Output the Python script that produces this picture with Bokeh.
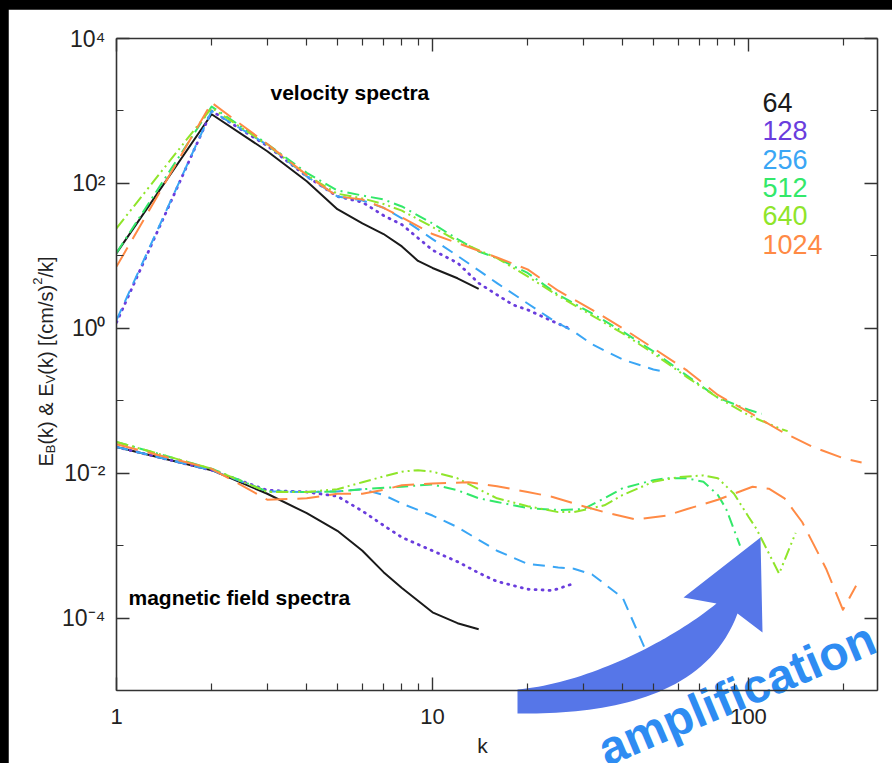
import math
from bokeh.plotting import figure
from bokeh.models import Range1d, LogAxis, FixedTicker, Label
from bokeh.core.properties import value
from bokeh.layouts import column
from bokeh.embed import file_html
from bokeh.resources import INLINE

# ---------------- data ----------------
resolutions = ["64", "128", "256", "512", "640", "1024"]

vel_k_64 = [1, 2, 3, 4, 5, 6, 7, 8, 9, 10, 12, 14]
vel_E_64 = [10.9, 900, 278, 107, 44, 28, 20, 13.5, 8.5, 6.8, 4.9, 3.5]
vel_k_128 = [1, 2, 3, 4, 5, 6, 7, 8, 10, 12, 14, 16, 18, 20, 24, 27]
vel_E_128 = [1.2, 1000, 330, 125, 66, 55, 36, 27, 12, 8, 4.2, 2.9, 2.1, 1.8, 1.25, 1.0]
vel_k_256 = [1, 2, 3, 4, 5, 6, 7, 8, 10, 12, 14, 16, 20, 24, 28, 32, 40, 50, 55]
vel_E_256 = [1.3, 1000, 340, 125, 66, 58, 46, 33, 17, 10, 6.3, 4.2, 2.2, 1.3, 0.9, 0.6, 0.37, 0.27, 0.25]
vel_k_512 = [1, 2, 3, 4, 5, 6, 7, 8, 10, 12, 14, 16, 20, 25, 32, 40, 50, 64, 80, 100, 110]
vel_E_512 = [11, 1150, 350, 140, 80, 68, 60, 48, 28, 17, 11.5, 9.3, 5.8, 2.9, 1.6, 0.9, 0.48, 0.22, 0.11, 0.075, 0.066]
vel_k_640 = [1, 2, 3, 4, 5, 6, 7, 8, 10, 12, 14, 16, 20, 25, 32, 40, 50, 64, 80, 100, 128, 133]
vel_E_640 = [24, 1100, 340, 130, 72, 62, 52, 42, 25, 16, 12, 9.3, 5.2, 2.8, 1.5, 0.85, 0.45, 0.21, 0.11, 0.063, 0.04, 0.038]
vel_k_1024 = [1, 2, 3, 4, 5, 6, 7, 8, 10, 12, 14, 16, 20, 25, 32, 40, 50, 64, 80, 100, 128, 160, 200, 228]
vel_E_1024 = [7.1, 1300, 350, 130, 66, 60, 46, 34, 20, 15, 11.7, 9.5, 6.5, 3.3, 1.8, 1.0, 0.53, 0.26, 0.12, 0.07, 0.037, 0.023, 0.016, 0.014]

mag_k_64 = [1, 2, 3, 4, 5, 6, 7, 8, 10, 12, 14]
mag_E_64 = [0.023, 0.011, 0.0052, 0.0028, 0.0016, 0.00085, 0.00043, 0.00026, 0.00012, 8.5e-5, 7e-5]
mag_k_128 = [1, 2, 3, 4, 5, 6, 7, 8, 10, 12, 14, 16, 20, 24, 28]
mag_E_128 = [0.023, 0.011, 0.0058, 0.0055, 0.0048, 0.003, 0.0019, 0.0013, 0.00085, 0.0006, 0.00042, 0.00032, 0.00025, 0.00024, 0.0003]
mag_k_256 = [1, 2, 3, 4, 5, 6, 7, 8, 10, 12, 14, 16, 20, 25, 28, 32, 40, 48, 54]
mag_E_256 = [0.023, 0.011, 0.0056, 0.0055, 0.0056, 0.006, 0.005, 0.0038, 0.0026, 0.0018, 0.0012, 0.00085, 0.00056, 0.0005, 0.00048, 0.0004, 0.00019, 3.1e-5, 5e-5]
mag_k_512 = [1, 2, 3, 4, 5, 6, 8, 10, 12, 14, 16, 20, 25, 30, 35, 40, 50, 55, 64, 72, 80, 85, 94]
mag_E_512 = [0.027, 0.0115, 0.0056, 0.0055, 0.0056, 0.006, 0.0065, 0.007, 0.0058, 0.0045, 0.004, 0.0033, 0.0031, 0.0032, 0.0045, 0.0062, 0.008, 0.0085, 0.0085, 0.0076, 0.005, 0.0032, 0.001]
mag_k_640 = [1, 2, 3, 4, 5, 6, 7, 8, 9, 10, 12, 14, 16, 20, 25, 28, 35, 40, 50, 60, 72, 80, 90, 100, 106, 125, 141]
mag_E_640 = [0.027, 0.0115, 0.0055, 0.0055, 0.006, 0.0075, 0.009, 0.0105, 0.011, 0.0105, 0.0085, 0.006, 0.0045, 0.0035, 0.0029, 0.0029, 0.0036, 0.005, 0.0076, 0.0088, 0.0093, 0.0085, 0.0052, 0.0025, 0.0017, 0.00041, 0.0015]
mag_k_1024 = [1, 2, 3, 4, 5, 6, 7, 8, 10, 13, 16, 20, 24, 30, 35, 44, 55, 64, 80, 103, 116, 130, 148, 176, 199, 219]
mag_E_1024 = [0.025, 0.0115, 0.0043, 0.0045, 0.0052, 0.0052, 0.0059, 0.0068, 0.0072, 0.0075, 0.0066, 0.0055, 0.0047, 0.0035, 0.0029, 0.0023, 0.0026, 0.0032, 0.0043, 0.0065, 0.0061, 0.0045, 0.0021, 0.00048, 0.00013, 0.00028]

x_major = [1, 10, 100]
x_minor = [2, 3, 4, 5, 6, 7, 8, 9, 20, 30, 40, 50, 60, 70, 80, 90, 200]
x_labels = ["1", "10", "100"]
y_major = [1e-4, 1e-2, 1.0, 1e2, 1e4]
y_minor = [1e-5, 1e-3, 1e-1, 10, 1e3]
y_labels = ["10⁻⁴", "10⁻²", "10⁰", "10²", "10⁴"]

# ---------------- styles ----------------
colors = ["#1a1a1a", "#6a3ddd", "#3aa6f5", "#33e86a", "#8fe52a", "#ff8a45"]
dashes = ["solid", "1 6", "12 8", "12 5 2 5", "12 4 2 4 2 4", "22 10"]
widths = [2, 2.8, 2, 2, 2, 2]
FONT = "Liberation Sans"

# frame placement in page pixels (used only for decorations)
FL, FR, FT, FB = 116, 877, 38, 690
X0, X1, Y0, Y1 = 1, 256, 1e-5, 1e4
DX = (FR - FL) / math.log10(X1 / X0)
DY = (FB - FT) / math.log10(Y1 / Y0)


def k_of(px):
    return X0 * 10 ** ((px - FL) / DX)


def e_of(py):
    return Y0 * 10 ** ((FB - py) / DY)


vel_k = [vel_k_64, vel_k_128, vel_k_256, vel_k_512, vel_k_640, vel_k_1024]
vel_E = [vel_E_64, vel_E_128, vel_E_256, vel_E_512, vel_E_640, vel_E_1024]
mag_k = [mag_k_64, mag_k_128, mag_k_256, mag_k_512, mag_k_640, mag_k_1024]
mag_E = [mag_E_64, mag_E_128, mag_E_256, mag_E_512, mag_E_640, mag_E_1024]

p = figure(width=884, height=754, x_axis_type="log", y_axis_type="log",
           x_range=Range1d(X0, X1), y_range=Range1d(Y0, Y1),
           output_backend="svg", toolbar_location=None,
           min_border_left=FL - 8, min_border_right=892 - FR, min_border_top=FT - 9,
           min_border_bottom=763 - FB,
           background_fill_color="white", border_fill_color="white",
           margin=(9, 0, 0, 8))
p.grid.visible = False
p.outline_line_color = None


def style_axis(ax, ticker, show_labels, standoff, size="22px"):
    ax.ticker = ticker
    ax.axis_line_color = "#333333"
    ax.axis_line_width = 1.6
    ax.major_tick_line_color = "#333333"
    ax.minor_tick_line_color = "#333333"
    ax.major_tick_line_width = 1.4
    ax.minor_tick_line_width = 1.2
    ax.major_tick_in = 13
    ax.major_tick_out = 0
    ax.minor_tick_in = 7
    ax.minor_tick_out = 0
    ax.major_label_text_font = FONT
    ax.major_label_text_color = "#222222"
    if show_labels:
        ax.major_label_text_font_size = size
        ax.major_label_standoff = standoff
    else:
        ax.major_label_text_font_size = "1px"
        ax.major_label_text_alpha = 0
        ax.major_label_standoff = 0


style_axis(p.xaxis[0], FixedTicker(ticks=x_major, minor_ticks=x_minor), True, 18, "22px")
p.xaxis[0].major_label_overrides = {v: s for v, s in zip(x_major, x_labels)}
p.xaxis[0].level = "overlay"
style_axis(p.yaxis[0], FixedTicker(ticks=y_major, minor_ticks=y_minor), True, 11, "23px")
p.yaxis[0].major_label_overrides = {v: s for v, s in zip(y_major, y_labels)}

top = LogAxis()
style_axis(top, FixedTicker(ticks=x_major, minor_ticks=x_minor), False, 0)
p.add_layout(top, "above")
right = LogAxis()
style_axis(right, FixedTicker(ticks=y_major, minor_ticks=y_minor), False, 0)
p.add_layout(right, "right")

for i in range(len(resolutions)):
    for ks, es in ((vel_k[i], vel_E[i]), (mag_k[i], mag_E[i])):
        p.line(ks, es, line_color=colors[i], line_width=widths[i],
               line_dash=dashes[i], line_cap="round" if i == 1 else "butt",
               line_join="round")

# legend numbers
for i, r in enumerate(resolutions):
    p.add_layout(Label(x=762 - FL, y=FB - (101.7 + 28.4 * i), x_units="screen", y_units="screen",
                       text=r, text_color=colors[i], text_font=FONT, text_font_size="27px",
                       text_baseline="middle", text_align="left"))

p.add_layout(Label(x=270 - FL, y=FB - 91.7, x_units="screen", y_units="screen",
                   text="velocity spectra", text_font=FONT, text_font_size="21px",
                   text_font_style="bold", text_color="black", text_baseline="middle"))
p.add_layout(Label(x=128 - FL, y=FB - 596.7, x_units="screen", y_units="screen",
                   text="magnetic field spectra", text_font=FONT, text_font_size="21px",
                   text_font_style="bold", text_color="black", text_baseline="middle"))

# ---- decorations outside the frame: glyphs at non-clipped levels ----
# x-axis title
p.text(x=[k_of(482)], y=[e_of(745)], text=["k"], text_font=value(FONT),
       text_font_size=value("21px"), text_color="#222222", text_align="center",
       text_baseline="middle", level="overlay")

# y-axis title built from pieces (sub/superscripts)
CW = {"E": .667, "B": .667, "V": .667, "(": .333, ")": .333, "k": .5, " ": .278, "&": .667,
      "[": .278, "]": .278, "c": .5, "m": .833, "/": .278, "s": .5, "2": .556}
parts = [("E", 20, 0), ("B", 13, 5), ("(k) & E", 20, 0), ("V", 13, 5),
         ("(k) [(cm/s)", 20, 0), ("2", 13, -8), ("/k]", 20, 0)]
total = sum(sum(CW.get(c, .556) for c in t) * s for t, s, _ in parts)
py = 361 + total / 2
for t, s, shift in parts:
    p.text(x=[k_of(45 + shift)], y=[e_of(py)], text=[t], angle=math.pi / 2,
           text_font=value(FONT), text_font_size=value(f"{s}px"), text_color="#222222",
           text_align="left", text_baseline="middle", level="overlay")
    py -= sum(CW.get(c, .556) for c in t) * s

# "amplification" (guide level: not clipped, under the bottom axis labels)
p.text(x=[k_of(600)], y=[e_of(751)], text=["amplification"], angle=0.40,
       text_font=value(FONT), text_font_size=value("48px"), text_font_style="bold",
       text_color="#2e8cf2", text_align="left", text_baseline="alphabetic", level="guide")


def bez(a, b, c, d, n=40):
    pts = []
    for j in range(n + 1):
        t = j / n
        u = 1 - t
        pts.append((u**3 * a[0] + 3 * u * u * t * b[0] + 3 * u * t * t * c[0] + t**3 * d[0],
                    u**3 * a[1] + 3 * u * u * t * b[1] + 3 * u * t * t * c[1] + t**3 * d[1]))
    return pts


# curved arrow (page pixel geometry)
upper = bez((517, 689), (585, 683), (668, 642), (716, 603))
lower = bez((517, 713), (600, 714), (705, 700), (737, 613))
head = [(683, 597), (760, 537), (762, 632)]
outline = upper + head + lower[::-1]
p.patch([k_of(x) for x, _ in outline], [e_of(y) for _, y in outline],
        fill_color="#5676e8", line_color=None, level="overlay")

layout = column(p, width=892, height=763, styles={"background-color": "black"})
open("out.html", "w").write(file_html(layout, INLINE))
